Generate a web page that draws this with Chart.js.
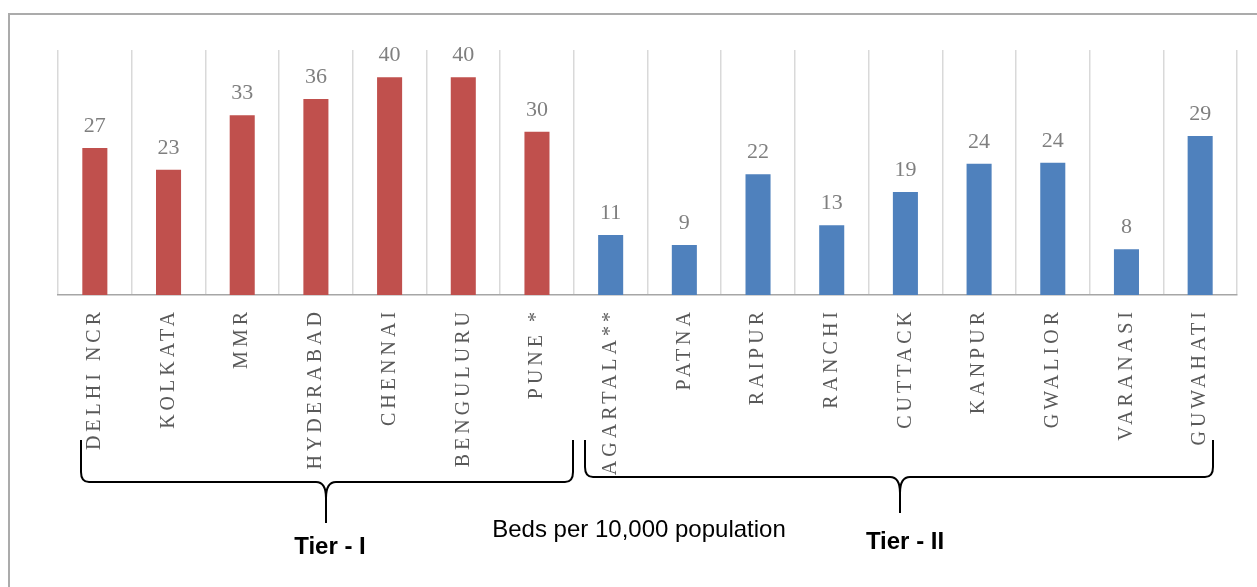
<!DOCTYPE html>
<html>
<head>
<meta charset="utf-8">
<script src="https://cdn.jsdelivr.net/npm/chart.js@4.4.1/dist/chart.umd.min.js"></script>
<style>
  body { margin: 0; background: #fff; }
  #wrap { position: relative; width: 1257px; height: 587px; }
  #frame { position: absolute; left: 8px; top: 13px; right: -10px; bottom: -10px;
           border-left: 2px solid #ababab; border-top: 2px solid #ababab; }
</style>
</head>
<body>
<div id="wrap">
  <div id="frame"></div>
  <canvas id="bedChart"></canvas>
</div>
<script>
// cities and beds per 10,000 population
const cities = ["DELHI NCR", "KOLKATA", "MMR", "HYDERABAD", "CHENNAI", "BENGULURU", "PUNE *",
                "AGARTALA**", "PATNA", "RAIPUR", "RANCHI", "CUTTACK", "KANPUR", "GWALIOR", "VARANASI", "GUWAHATI"];
const beds = [27, 23, 33, 36, 40, 40, 30, 11, 9.2, 22.2, 12.8, 18.9, 24.1, 24.3, 8.4, 29.2];
const tiers = [1, 1, 1, 1, 1, 1, 1, 2, 2, 2, 2, 2, 2, 2, 2, 2];

const tierColors = { 1: "#c0504d", 2: "#4f81bd" };
const barColors = tiers.map(t => tierColors[t]);

// spaced out serif labels on the x axis
const spacing = {
    id: "spacing",
    beforeDraw(chart) { chart.ctx.letterSpacing = "4px"; },
    beforeDatasetsDraw(chart) { chart.ctx.letterSpacing = "0px"; }
};

const valueLabels = {
    id: "valueLabels",
    afterDatasetsDraw(chart) {
        const ctx = chart.ctx;
        const meta = chart.getDatasetMeta(0);
        ctx.save();
        ctx.font = "22px 'Liberation Serif', 'Times New Roman', serif";
        ctx.fillStyle = "#7f7f7f";
        ctx.textAlign = "center";
        ctx.textBaseline = "alphabetic";
        meta.data.forEach((bar, i) => {
            ctx.fillText(Math.round(beds[i]), bar.x, bar.y - 16);
        });
        ctx.restore();
    }
};

function brace(ctx, x1, x2, xm, yTop, yH, yTip) {
    ctx.beginPath();
    ctx.moveTo(x1, yTop);
    ctx.lineTo(x1, yH - 10);
    ctx.quadraticCurveTo(x1, yH, x1 + 8, yH);
    ctx.lineTo(xm - 10, yH);
    ctx.quadraticCurveTo(xm, yH, xm, yH + 16);
    ctx.lineTo(xm, yTip);
    ctx.moveTo(xm, yH + 16);
    ctx.quadraticCurveTo(xm, yH, xm + 10, yH);
    ctx.lineTo(x2 - 8, yH);
    ctx.quadraticCurveTo(x2, yH, x2, yH - 10);
    ctx.lineTo(x2, yTop);
    ctx.stroke();
}

const tierNotes = {
    id: "tierNotes",
    afterDraw(chart) {
        const ctx = chart.ctx;
        ctx.save();
        ctx.letterSpacing = "0px";
        ctx.strokeStyle = "#000";
        ctx.lineWidth = 2;
        brace(ctx, 81, 573, 326, 440, 482, 523);
        brace(ctx, 585, 1213, 900, 440, 477, 513);
        ctx.fillStyle = "#000";
        ctx.textAlign = "center";
        ctx.font = "bold 24px 'Liberation Sans', Arial, sans-serif";
        ctx.fillText("Tier - I", 330, 554);
        ctx.fillText("Tier - II", 905, 549);
        ctx.font = "24px 'Liberation Sans', Arial, sans-serif";
        ctx.fillText("Beds per 10,000 population", 639, 537);
        ctx.restore();
    }
};

new Chart(document.getElementById("bedChart"), {
    type: "bar",
    data: {
        labels: cities,
        datasets: [{
            data: beds,
            backgroundColor: barColors,
            barPercentage: 0.34,
            categoryPercentage: 1
        }]
    },
    options: {
        responsive: true,
        maintainAspectRatio: false,
        animation: false,
        layout: { padding: { left: 58, right: 20, top: 50, bottom: 0 } },
        plugins: { legend: { display: false }, tooltip: { enabled: false } },
        scales: {
            x: {
                grid: { color: "#d9d9d9", lineWidth: 1.5, drawTicks: false, offset: true },
                border: { color: "#a6a6a6", width: 1.5 },
                ticks: {
                    autoSkip: false,
                    minRotation: 90,
                    maxRotation: 90,
                    padding: 13,
                    color: "#595959",
                    font: { family: "'Liberation Serif', 'Times New Roman', serif", size: 20 }
                },
                afterFit(scale) { scale.height = 292; }
            },
            y: { display: false, min: 0, max: 45 }
        }
    },
    plugins: [spacing, valueLabels, tierNotes]
});
</script>
</body>
</html>
